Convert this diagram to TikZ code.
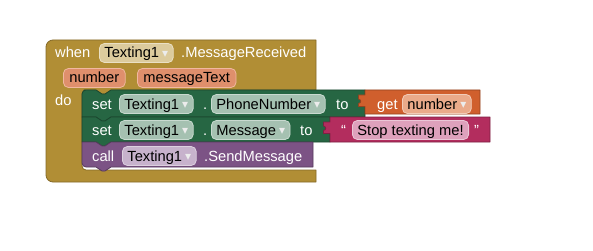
\documentclass[tikz,border=0pt]{standalone}
\usepackage{fontspec}
\setmainfont{Liberation Sans}
\newfontfamily\arrowfont{DejaVu Sans}
\usepackage{xcolor}
\usetikzlibrary{positioning}

\definecolor{ctrlgold}{HTML}{B18E35}
\definecolor{ctrlfield}{HTML}{DCCB9D}
\definecolor{paramfill}{HTML}{DF8F6C}
\definecolor{paramline}{HTML}{F0B8A0}
\definecolor{setgreen}{HTML}{266643}
\definecolor{greenfield}{HTML}{A5C1B1}
\definecolor{getorange}{HTML}{D05F2D}
\definecolor{orangefield}{HTML}{EAAA8A}
\definecolor{textmagenta}{HTML}{B32D5E}
\definecolor{pinkfield}{HTML}{DEA1BC}
\definecolor{callpurple}{HTML}{7C5385}
\definecolor{purplefield}{HTML}{C7B2CC}

% small dropdown arrow inside the fields
\newcommand\ddarrow{\hspace{3pt}\raisebox{0.5pt}{\arrowfont\fontsize{12}{12}\selectfont\textcolor{white!85!gray}{▾}}}

\begin{document}
\begin{tikzpicture}[
    x=1pt, y=-1pt,
    every node/.style={font=\fontsize{14.7}{16}\selectfont},
    block/.style={line width=0.8pt, line join=round},
    kw/.style={anchor=base west, inner sep=0pt, text=white},
    field/.style={anchor=base west, draw, rounded corners=5pt, inner xsep=5pt, inner ysep=2.5pt,
        text height=12pt, text depth=2pt, text=black, line width=0.8pt},
    param/.style={field, fill=paramfill, draw=paramline, inner xsep=6pt},
]
\fill[white] (0,0) rectangle (593,251);
\useasboundingbox (0,0) rectangle (593,251);

% event block: when ... do
\draw[block, fill=ctrlgold, draw=ctrlgold!75!black]
    (46,60) [rounded corners=7] -- (46,40) -- (200,40) [sharp corners] -- (316,40) -- (316,90)
    -- (111,90) -- (105,94) -- (102,94) -- (96,90) -- (88,90) [rounded corners=4] -- (82,90)
    -- (82,170) -- (90,170) [sharp corners] -- (316,170) -- (316,182) -- (60,182)
    [rounded corners=7] -- (46,182) -- cycle;

% set Texting1.PhoneNumber
\draw[block, fill=setgreen, draw=setgreen!70!black]
    (82,103) [rounded corners=4] -- (82,90) -- (88,90) [sharp corners] -- (96,90) -- (102,94)
    -- (105,94) -- (111,90) -- (365,90) -- (365,117) -- (111,117) -- (105,121) -- (102,121)
    -- (96,117) -- (82,117) -- cycle;

% set Texting1.Message
\draw[block, fill=setgreen, draw=setgreen!70!black]
    (82,130) -- (82,117) -- (96,117) -- (102,121) -- (105,121) -- (111,117) -- (330,117)
    -- (330,142) -- (111,142) -- (105,146) -- (102,146) -- (96,142) -- (82,142) -- cycle;

% call Texting1.SendMessage
\draw[block, fill=callpurple, draw=callpurple!70!black]
    (82,155) -- (82,142) -- (96,142) -- (102,146) -- (105,146) -- (111,142) -- (313,142)
    -- (313,167) -- (111,167) -- (105,171) -- (102,171) -- (96,167) -- (86,167)
    [rounded corners=4] -- (82,167) -- cycle;

% get number
\draw[block, fill=getorange, draw=getorange!70!black]
    (365,90) -- (480,90) -- (480,114) -- (365,114) -- (365,106.5) -- (358.5,106.5)
    -- (358.5,103.5) .. controls (361.5,103) and (361.5,99.5) .. (358.5,99)
    -- (358.5,95) -- (365,95) -- cycle;

% text string
\draw[block, fill=textmagenta, draw=textmagenta!70!black]
    (330,117) -- (490,117) -- (490,142) -- (330,142) -- (330,133.5) -- (323.5,133.5)
    -- (323.5,130.5) .. controls (326.5,130) and (326.5,126.5) .. (323.5,126)
    -- (323.5,122) -- (330,122) -- cycle;

% header
\node[kw] (when) at (55,58) {when};
\node[field, fill=ctrlfield, draw=ctrlfield!60!white] (evComp) at (99,58) {Texting1\ddarrow};
\node[kw] (evName) at (181,58) {.MessageReceived};
\node[param] (pNumber) at (63,83) {number};
\node[param] (pMessage) at (137,83) {messageText};
\node[kw] (do) at (55,106) {do};

% row 1
\node[kw] (set1) at (92,109) {set};
\node[field, fill=greenfield, draw=greenfield!60!white] (comp1) at (119,109) {Texting1\ddarrow};
\node[kw] (dot1) at (203,109) {.};
\node[field, fill=greenfield, draw=greenfield!60!white] (prop1) at (211,109) {PhoneNumber\ddarrow};
\node[kw] (to1) at (336,109) {to};
\node[kw] (get) at (377,109) {get};
\node[field, fill=orangefield, draw=orangefield!60!white] (getVar) at (402,109) {number\ddarrow};

% row 2
\node[kw] (set2) at (92,135) {set};
\node[field, fill=greenfield, draw=greenfield!60!white] (comp2) at (119,135) {Texting1\ddarrow};
\node[kw] (dot2) at (203,135) {.};
\node[field, fill=greenfield, draw=greenfield!60!white] (prop2) at (211,135) {Message\ddarrow};
\node[kw] (to2) at (300,135) {to};
\node[kw] (qOpen) at (341,135) {“};
\node[field, fill=pinkfield, draw=pinkfield!60!white] (msgText) at (352,135) {Stop texting me!};
\node[kw] (qClose) at (474,135) {”};

% row 3
\node[kw] (call) at (92,161) {call};
\node[field, fill=purplefield, draw=purplefield!60!white] (comp3) at (122,161) {Texting1\ddarrow};
\node[kw] (method) at (204,161) {.SendMessage};

\end{tikzpicture}
\end{document}
